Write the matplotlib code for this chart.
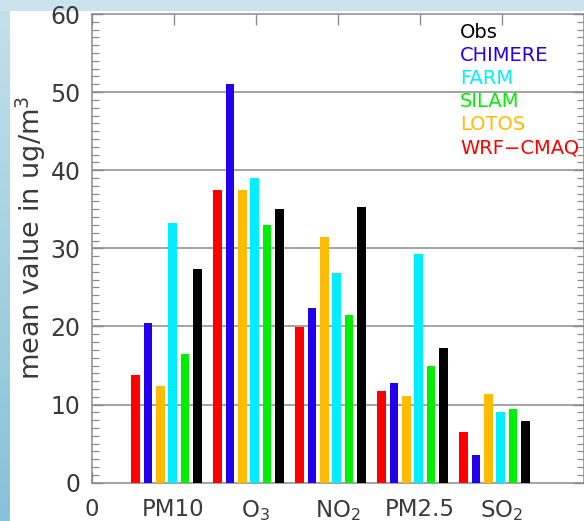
import numpy as np
import matplotlib
matplotlib.use('Agg')
import matplotlib.pyplot as plt
from matplotlib.ticker import MultipleLocator

# mean concentrations per species, one list per model (ug/m3)
species = ['PM10', 'O$_3$', 'NO$_2$', 'PM2.5', 'SO$_2$']
wrf_cmaq = [13.8, 37.5, 19.9, 11.8, 6.5]
chimere = [20.4, 51.1, 22.4, 12.8, 3.6]
lotos = [12.4, 37.5, 31.5, 11.1, 11.3]
farm = [33.2, 39.0, 26.9, 29.3, 9.0]
silam = [16.5, 33.0, 21.5, 15.0, 9.4]
obs = [27.4, 35.1, 35.3, 17.3, 7.9]

series = [
    (wrf_cmaq, '#ff0000'),
    (chimere, '#2200ee'),
    (lotos, '#ffbb00'),
    (farm, '#00eeff'),
    (silam, '#00ee00'),
    (obs, '#000000'),
]
legend_order = [('Obs', '#000000'), ('CHIMERE', '#2200ee'), ('FARM', '#00eeff'),
                ('SILAM', '#00ee00'), ('LOTOS', '#ffbb00'), ('WRF−CMAQ', '#ff0000')]

W, H = 584, 521
fig = plt.figure(figsize=(W / 100, H / 100), dpi=100)

# slide frame: light strip on top, shaded strip on the left
bg = fig.add_axes([0, 0, 1, 1], zorder=-10)
bg.set_axis_off()
bg.set_xlim(0, W)
bg.set_ylim(H, 0)
bg.add_patch(plt.Rectangle((0, 0), W, H, color='#cbe3ed', lw=0))
grad = np.linspace(0, 1, 200)[:, None]
cmap = matplotlib.colors.LinearSegmentedColormap.from_list('side', ['#c3dfea', '#86c2d8'])
bg.imshow(grad, extent=(0, 10, H, 11), cmap=cmap, aspect='auto', zorder=1)
bg.add_patch(plt.Rectangle((10, 11), W - 10, H - 11, color='white', lw=0, zorder=2))

ax = fig.add_axes([91.5 / W, 38.3 / H, (583.5 - 91.5) / W, (482.7 - 14) / H])
ax.set_facecolor('none')

x = np.arange(1, len(species) + 1)
width = 0.105
for k, (vals, col) in enumerate(series):
    ax.bar(x - 0.46 + 0.15 * k, vals, width=width, color=col, lw=0, zorder=3)

ax.set_xlim(0, 6)
ax.set_ylim(0, 60)
ax.set_xticks(range(0, 6))
ax.set_xticklabels(['0'] + species)
ax.yaxis.set_major_locator(MultipleLocator(10))
ax.yaxis.set_minor_locator(MultipleLocator(1))

for y in range(10, 60, 10):
    ax.axhline(y, color='#8a8a8a', lw=1.1, zorder=1)

for s in ax.spines.values():
    s.set_color('#8a8a8a')
    s.set_linewidth(1.1)

ax.tick_params(axis='both', which='both', direction='in', color='#8a8a8a',
               labelcolor='#3a3a3a')
ax.tick_params(axis='x', which='major', top=True, length=8, width=1, pad=11,
               labelsize=16.5)
ax.tick_params(axis='y', which='major', right=True, length=8, width=1, pad=8,
               labelsize=17)
ax.tick_params(axis='y', which='minor', right=True, length=5, width=0.9)

fig.text(31 / W, 1 - 238 / H, 'mean value in ug/m$^3$', rotation=90,
         ha='center', va='center', fontsize=19.5, color='#3a3a3a')

for i, (name, col) in enumerate(legend_order):
    fig.text(460 / W, 1 - (32 + 23.2 * i) / H, name, color=col, fontsize=14,
             ha='left', va='center')

fig.savefig('out.png', dpi=100)
